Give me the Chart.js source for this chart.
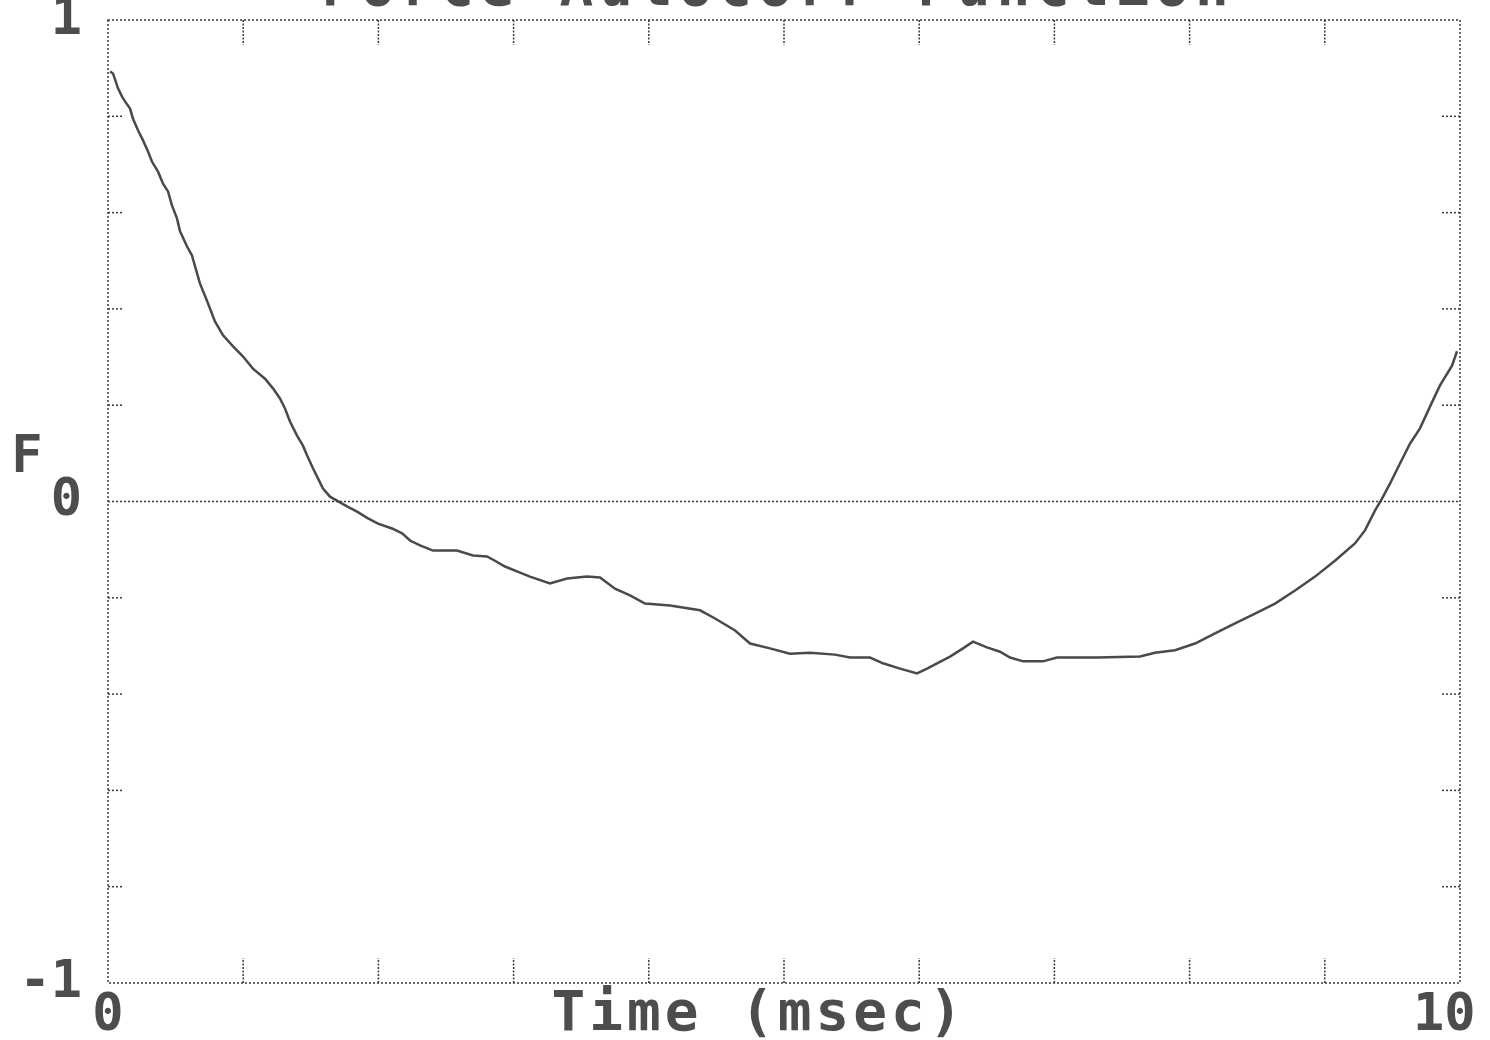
<!DOCTYPE html>
<html>
<head>
<meta charset="utf-8">
<script src="https://cdn.jsdelivr.net/npm/chart.js@4.4.0/dist/chart.umd.min.js"></script>
<style>
  html, body { margin: 0; padding: 0; background: #ffffff; }
  #wrap { width: 1490px; height: 1040px; }
</style>
</head>
<body>
<div id="wrap"><canvas id="c" width="1490" height="1040"></canvas></div>
<script>
// ---- data ----
const chartTitle = "Force Autocorr Function";
const xAxisTitle = "Time (msec)";
const yAxisTitle = "F";
const xTickLabels = { 0: "0", 10: "10" };
const yTickLabels = { "-1": "-1", "0": "0", "1": "1" };
const xMajorTicks = [1, 2, 3, 4, 5, 6, 7, 8, 9];
const yMinorTicks = [-0.8, -0.6, -0.4, -0.2, 0.2, 0.4, 0.6, 0.8];

const timeMs = [
  0.015, 0.037, 0.074, 0.104, 0.126, 0.163, 0.185, 0.222, 0.259, 0.296,
  0.325, 0.370, 0.407, 0.444, 0.473, 0.510, 0.533, 0.584, 0.621, 0.680,
  0.732, 0.791, 0.851, 0.925, 0.999, 1.072, 1.161, 1.220, 1.272, 1.309,
  1.346, 1.398, 1.442, 1.472, 1.516, 1.553, 1.590, 1.642, 1.768, 1.842,
  1.923, 1.997, 2.101, 2.175, 2.234, 2.308, 2.404, 2.581, 2.700, 2.803,
  2.862, 2.936, 3.025, 3.121, 3.269, 3.395, 3.543, 3.639, 3.750, 3.861,
  3.972, 4.157, 4.379, 4.490, 4.638, 4.749, 4.896, 5.044, 5.192, 5.377,
  5.488, 5.636, 5.732, 5.858, 5.984, 6.058, 6.132, 6.228, 6.324, 6.398,
  6.501, 6.598, 6.672, 6.768, 6.916, 7.019, 7.315, 7.633, 7.744, 7.892,
  8.040, 8.188, 8.336, 8.484, 8.632, 8.780, 8.928, 9.075, 9.223, 9.297,
  9.371, 9.423, 9.482, 9.556, 9.630, 9.704, 9.778, 9.852, 9.941, 9.978
];
const forceValues = [
  0.893, 0.889, 0.858, 0.841, 0.831, 0.816, 0.795, 0.771, 0.750, 0.727,
  0.706, 0.685, 0.660, 0.644, 0.615, 0.588, 0.561, 0.530, 0.511, 0.453,
  0.417, 0.374, 0.345, 0.322, 0.301, 0.276, 0.255, 0.235, 0.214, 0.193,
  0.166, 0.137, 0.116, 0.096, 0.069, 0.048, 0.027, 0.010, -0.010, -0.021,
  -0.035, -0.046, -0.056, -0.066, -0.081, -0.091, -0.102, -0.102, -0.112, -0.114,
  -0.123, -0.135, -0.145, -0.156, -0.170, -0.160, -0.156, -0.158, -0.181, -0.195,
  -0.212, -0.216, -0.226, -0.243, -0.268, -0.295, -0.305, -0.316, -0.314, -0.318,
  -0.324, -0.324, -0.336, -0.347, -0.357, -0.347, -0.336, -0.322, -0.305, -0.291,
  -0.303, -0.312, -0.324, -0.332, -0.332, -0.324, -0.324, -0.322, -0.314, -0.309,
  -0.295, -0.274, -0.253, -0.233, -0.212, -0.185, -0.156, -0.123, -0.087, -0.060,
  -0.019, 0.006, 0.037, 0.079, 0.120, 0.152, 0.197, 0.241, 0.282, 0.312
];

const points = timeMs.map((t, i) => ({ x: t, y: forceValues[i] }));

const TEXT_COLOR = "#4d4d4d";
const FRAME_COLOR = "#3a3a3a";
const FONT = "'DejaVu Sans Mono', 'Liberation Mono', monospace";

const framePlugin = {
  id: "framePlugin",
  afterDatasetsDraw(chart) {
    const { ctx, chartArea: a, scales } = chart;
    const xs = scales.x, ys = scales.y;
    ctx.save();
    ctx.strokeStyle = FRAME_COLOR;
    ctx.lineWidth = 1.5;
    ctx.setLineDash([2, 2]);
    ctx.strokeRect(a.left, a.top, a.right - a.left, a.bottom - a.top);
    const y0 = ys.getPixelForValue(0);
    ctx.beginPath(); ctx.moveTo(a.left, y0); ctx.lineTo(a.right, y0); ctx.stroke();
    ctx.setLineDash([2, 1.5]);
    xMajorTicks.forEach(v => {
      const px = xs.getPixelForValue(v);
      ctx.beginPath(); ctx.moveTo(px, a.top); ctx.lineTo(px, a.top + 25); ctx.stroke();
      ctx.beginPath(); ctx.moveTo(px, a.bottom); ctx.lineTo(px, a.bottom - 25); ctx.stroke();
    });
    ctx.setLineDash([2, 2]);
    yMinorTicks.forEach(v => {
      const py = ys.getPixelForValue(v);
      ctx.beginPath(); ctx.moveTo(a.left, py); ctx.lineTo(a.left + 16, py); ctx.stroke();
      ctx.beginPath(); ctx.moveTo(a.right, py); ctx.lineTo(a.right - 20, py); ctx.stroke();
    });
    ctx.restore();
  },
  afterDraw(chart) {
    const { ctx } = chart;
    ctx.save();
    ctx.fillStyle = TEXT_COLOR;
    // title, mostly cut off by the top edge as in the reference
    ctx.font = "bold 56px " + FONT;
    ctx.letterSpacing = "6px";
    ctx.textAlign = "center";
    ctx.textBaseline = "alphabetic";
    ctx.fillText(chartTitle, 778, 5);
    // x axis title, on the same line as the tick labels
    ctx.letterSpacing = "4px";
    ctx.textBaseline = "middle";
    ctx.fillText(xAxisTitle, 759, 1015);
    // y axis title
    ctx.letterSpacing = "0px";
    ctx.font = "bold 52px " + FONT;
    ctx.fillText(yAxisTitle, 27, 458);
    ctx.restore();
  }
};

new Chart(document.getElementById("c"), {
  type: "line",
  data: {
    datasets: [{
      data: points,
      borderColor: "#4a4a4a",
      borderWidth: 2.5,
      pointRadius: 0,
      tension: 0,
      fill: false
    }]
  },
  options: {
    responsive: false,
    animation: false,
    devicePixelRatio: 1,
    layout: { padding: { top: 20, right: 30, bottom: 0, left: 0 } },
    plugins: { legend: { display: false }, tooltip: { enabled: false }, title: { display: false } },
    scales: {
      x: {
        type: "linear",
        min: 0, max: 10,
        grid: { display: false, drawTicks: false },
        border: { display: false },
        ticks: {
          stepSize: 10,
          padding: 2,
          color: TEXT_COLOR,
          font: { family: FONT, size: 52, weight: "bold" },
          maxRotation: 0,
          callback: (v) => (v === 10 ? xTickLabels[10] + " " : (xTickLabels[v] ?? ""))
        },
        afterFit(scale) { scale.height = 57; scale.paddingLeft = 0; scale.paddingRight = 0; }
      },
      y: {
        type: "linear",
        min: -1, max: 1,
        grid: { display: false, drawTicks: false },
        border: { display: false },
        ticks: {
          stepSize: 1,
          padding: 26,
          color: TEXT_COLOR,
          font: { family: FONT, size: 52, weight: "bold" },
          callback: (v) => yTickLabels[String(v)] ?? ""
        },
        afterFit(scale) { scale.width = 108; scale.paddingTop = 0; scale.paddingBottom = 0; }
      }
    }
  },
  plugins: [framePlugin]
});
</script>
</body>
</html>
